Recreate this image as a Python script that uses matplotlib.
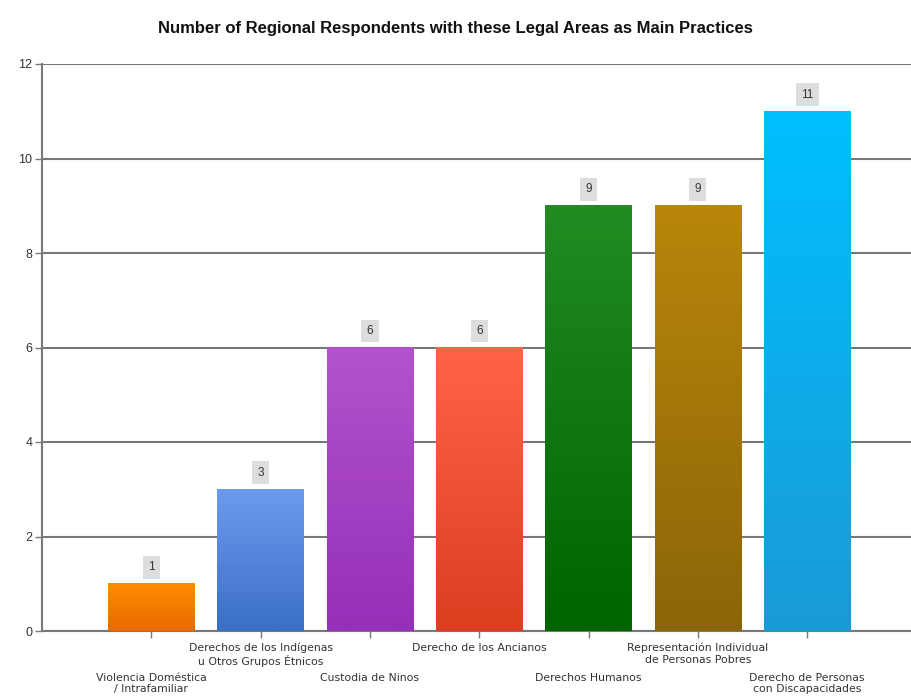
import numpy as np
import matplotlib.pyplot as plt

# data
categories = ['Violencia Doméstica\n/ Intrafamiliar',
              'Derechos de los Indígenas\nu Otros Grupos Étnicos',
              'Custodia de Ninos',
              'Derecho de los Ancianos',
              'Derechos Humanos',
              'Representación Individual\nde Personas Pobres',
              'Derecho de Personas\ncon Discapacidades']
counts = [1, 3, 6, 6, 9, 9, 11]
top_colors = ['#FF8C00', '#6A9BEE', '#B452CD', '#FF6347', '#228B22', '#B8860B', '#00BFFF']
bottom_colors = ['#E86A00', '#3B6FC6', '#9530B8', '#DC3E20', '#006400', '#8B6508', '#1A9AD6']

plt.rcParams['font.family'] = ['Liberation Sans', 'DejaVu Sans']

fig = plt.figure(figsize=(9.11, 6.96), dpi=100)
ax = fig.add_axes([42/911, 1-631/696, (911-42)/911, (631-64)/696])

x = np.arange(len(counts))
w = 0.79
grad = np.linspace(0, 1, 100).reshape(-1, 1)

def hex2rgb(h):
    return np.array([int(h[i:i+2], 16) for i in (1, 3, 5)]) / 255.0

for i, v in enumerate(counts):
    c0 = hex2rgb(top_colors[i])
    c1 = hex2rgb(bottom_colors[i])
    img = c1[None, None, :] * (1 - grad[:, :, None]) + c0[None, None, :] * grad[:, :, None]
    ax.imshow(img, extent=[x[i]-w/2, x[i]+w/2, 0, v], origin='lower',
              aspect='auto', zorder=3, interpolation='bilinear')
    ax.text(x[i], v + 0.35, str(v), ha='center', va='center', fontsize=8.5,
            color='#333333', zorder=4,
            bbox=dict(boxstyle='square,pad=0.45', fc='#DDDDDD', ec='none'))

ax.set_xlim(-1.0, 6.95)
ax.set_ylim(0, 12)
ax.set_yticks(range(0, 13, 2))
ax.grid(axis='y', color='#787878', linewidth=1.5, zorder=1)
ax.set_axisbelow(True)

for s in ['top', 'right']:
    ax.spines[s].set_visible(False)
ax.spines['left'].set_color('#787878')
ax.spines['left'].set_linewidth(1.5)
ax.spines['bottom'].set_color('#787878')
ax.spines['bottom'].set_linewidth(1.5)

ax.tick_params(axis='y', length=5, width=1, color='#787878', labelsize=9,
               labelcolor='#333333', pad=2)
ax.set_xticks(x)
ax.set_xticklabels([])
ax.tick_params(axis='x', length=5, width=1, color='#787878')

# staggered category labels
for i, lab in enumerate(categories):
    y_off = 0.25 if i % 2 == 1 else 0.88
    ax.text(x[i], -y_off, lab, ha='center', va='top', fontsize=7.8,
            color='#333333', linespacing=1.2, family='DejaVu Sans')

fig.text(0.5, 1-28/696, 'Number of Regional Respondents with these Legal Areas as Main Practices',
         ha='center', va='center', fontsize=12, fontweight='bold', color='#111111')

fig.savefig('out.png', dpi=100)
